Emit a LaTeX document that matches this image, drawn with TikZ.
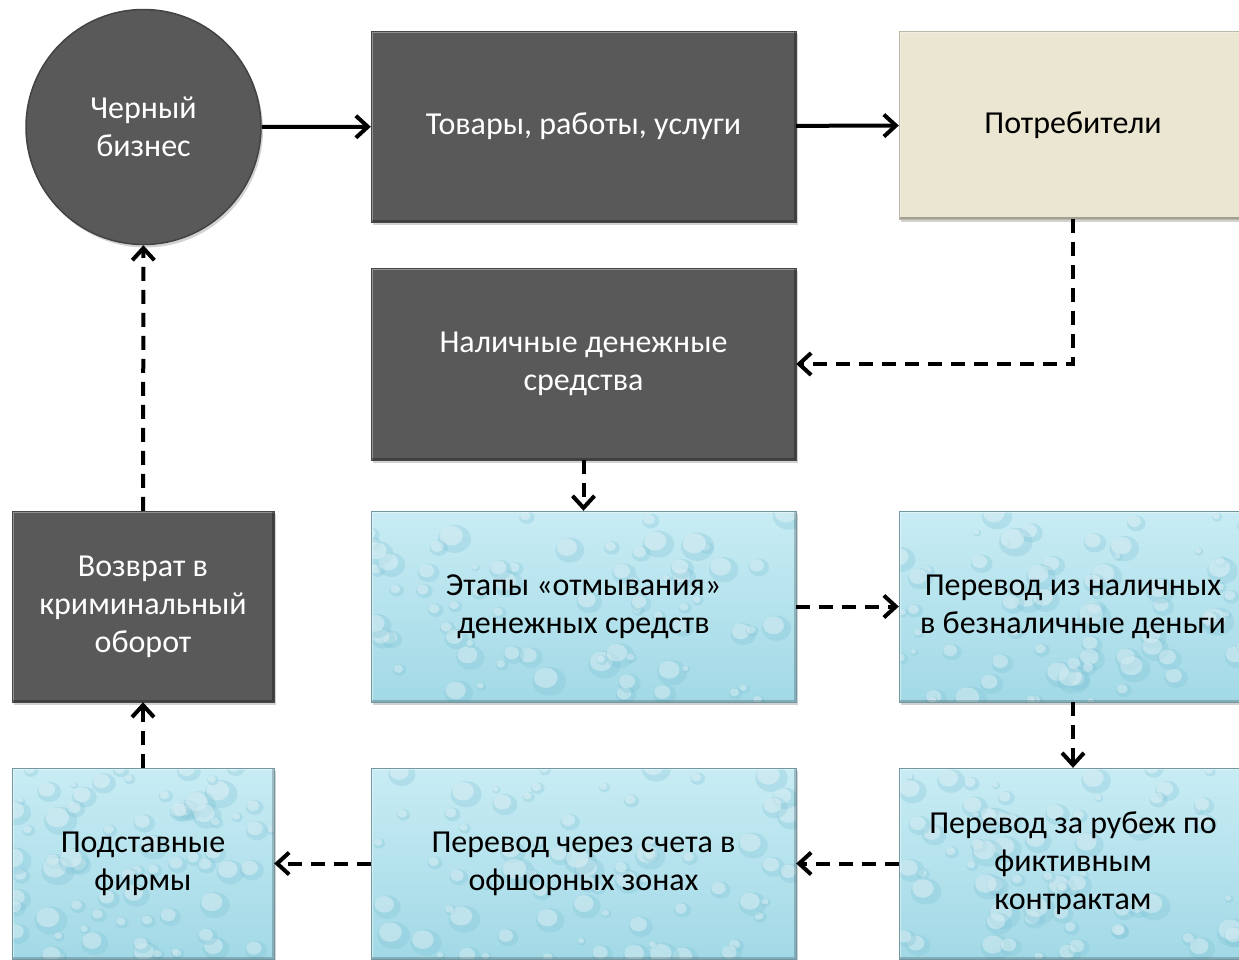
\documentclass[tikz,border=0pt]{standalone}
\usepackage{fontspec}
\setmainfont{Carlito}
\usetikzlibrary{arrows.meta,shadows,calc}

\definecolor{darkfill}{HTML}{595959}
\definecolor{beigefill}{HTML}{EAE6D1}
\definecolor{waterlight}{HTML}{C8ECF4}
\definecolor{waterdark}{HTML}{A2D9E6}
\definecolor{dropdark}{HTML}{7FC3D6}

\tikzset{
	box/.style 2 args={rectangle, inner sep=0pt, align=center, minimum width=#1, minimum height=#2,
		font=\fontsize{32}{38}\selectfont,
		drop shadow={opacity=0.35, shadow xshift=2pt, shadow yshift=-3pt},
		path picture={
			\draw[white, opacity=0.35, line width=4pt] (path picture bounding box.south west) |- (path picture bounding box.north east);
			\draw[black, opacity=0.3, line width=4pt] (path picture bounding box.south west) -| (path picture bounding box.north east);
		}},
	darkbox/.style 2 args={box={#1}{#2}, fill=darkfill, draw=darkfill!80!black, text=white},
	beigebox/.style 2 args={box={#1}{#2}, fill=beigefill, draw=beigefill!80!black},
	waterbox/.style 2 args={rectangle, inner sep=0pt, align=center, minimum width=#1, minimum height=#2,
		font=\fontsize{32}{38}\selectfont, draw=waterdark!70!black,
		top color=waterlight, bottom color=waterdark,
		drop shadow={opacity=0.35, shadow xshift=2pt, shadow yshift=-3pt},
		path picture={
			\coordinate (sw) at (path picture bounding box.south west);
			\coordinate (ne) at (path picture bounding box.north east);
			\foreach \i in {1,...,70}{
				\pgfmathsetmacro\fx{rnd}
				\pgfmathsetmacro\fy{rnd}
				\pgfmathsetmacro\rr{4+rnd*13}
				\fill[dropdark, opacity=0.3] let \p1 = (sw), \p2 = (ne) in
					({\x1+\fx*(\x2-\x1)}, {\y1+\fy*(\y2-\y1)}) circle[x radius={\rr pt}, y radius={0.85*\rr pt}];
				\fill[white, opacity=0.35] let \p1 = (sw), \p2 = (ne) in
					({\x1+\fx*(\x2-\x1)-0.2*\rr pt}, {\y1+\fy*(\y2-\y1)+0.2*\rr pt}) circle[x radius={0.7*\rr pt}, y radius={0.6*\rr pt}];
			}
			\draw[white, opacity=0.45, line width=4pt] (sw) |- (ne);
			\draw[black, opacity=0.2, line width=4pt] (sw) -| (ne);
		}},
	arr/.style={line width=4pt, -{Straight Barb[length=12pt, width=22pt]}},
	dashline/.style={arr, dash pattern=on 14pt off 9pt}
}

\begin{document}
\begin{tikzpicture}[x=1pt, y=-1pt]
	\pgfmathsetseed{11}
	\useasboundingbox (0,0) rectangle (1239,959);
	\fill[white] (0,0) rectangle (1239,959);

	% top row
	\node[circle, minimum size=235pt, inner sep=0pt, align=center, fill=darkfill, draw=darkfill!75!black,
		line width=1.5pt, text=white, font=\fontsize{32}{38}\selectfont,
		drop shadow={opacity=0.35, shadow xshift=2pt, shadow yshift=-3pt}] (biz) at (143.5,127) {Черный\\бизнес};
	\node[darkbox={425pt}{191pt}] (goods) at (583.5,126.5) {Товары, работы, услуги};
	\node[beigebox={348pt}{188pt}] (cons) at (1073,125) {Потребители};

	% middle
	\node[darkbox={425pt}{192pt}] (cash) at (583.5,364) {Наличные денежные\\средства};
	\node[darkbox={262pt}{191pt}] (ret) at (143,606.5) {Возврат в\\криминальный\\оборот};
	\node[waterbox={425pt}{191pt}] (stages) at (583.5,606.5) {Этапы «отмывания»\\денежных средств};
	\node[waterbox={348pt}{191pt}] (tocash) at (1073,606.5) {Перевод из наличных\\в безналичные деньги};

	% bottom row
	\node[waterbox={262pt}{191pt}] (fake) at (143,863.5) {Подставные\\фирмы};
	\node[waterbox={425pt}{191pt}] (offsh) at (583.5,863.5) {Перевод через счета в\\офшорных зонах};
	\node[waterbox={348pt}{191pt}] (abroad) at (1073,863.5) {Перевод за рубеж по\\фиктивным\\контрактам};

	\draw[arr] (biz) -- (goods);
	\draw[arr] (goods) -- (cons);
	\draw[dashline] (cons.south) |- (cash.east);
	\draw[dashline] (cash) -- (stages);
	\draw[dashline] (stages) -- (tocash);
	\draw[dashline] (tocash) -- (abroad);
	\draw[dashline] (abroad) -- (offsh);
	\draw[dashline] (offsh) -- (fake);
	\draw[dashline] (fake) -- (ret);
	\draw[dashline] (ret) -- (biz);
\end{tikzpicture}
\end{document}
